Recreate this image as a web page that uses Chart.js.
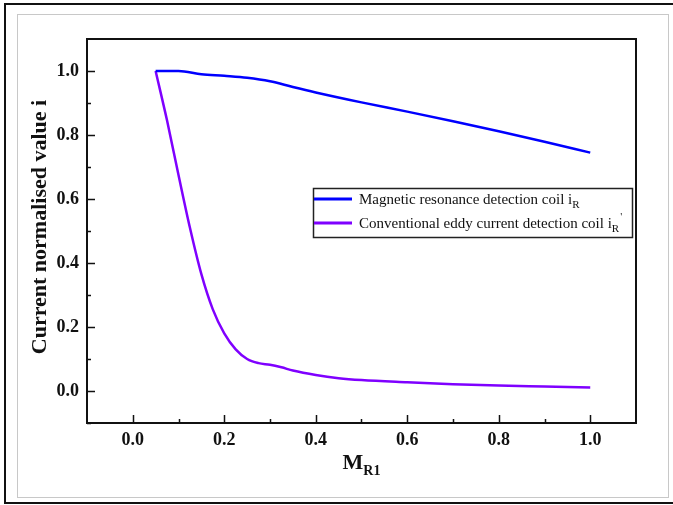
<!DOCTYPE html>
<html lang="en">
<head>
<meta charset="UTF-8">
<title>Current normalised value vs MR1</title>
<script src="https://cdn.jsdelivr.net/npm/chart.js"></script>
<style>
  body { margin: 0; background: #fff; width: 673px; height: 505px; overflow: hidden; position: relative; }
  .outer { position: absolute; left: 4px; top: 3px; width: 720px; height: 497px; border: 2px solid #111; }
  .inner { position: absolute; left: 17px; top: 14px; width: 650px; height: 482px; border: 1px solid #c8c8c8; }
  canvas { position: absolute; left: 0; top: 0; }
</style>
</head>
<body>
<div class="outer"></div>
<div class="inner"></div>
<canvas id="chart" width="673" height="505"></canvas>
<script>
// tick labels
const xMajorTicks = [0.0, 0.2, 0.4, 0.6, 0.8, 1.0];
const xMinorTicks = [0.1, 0.3, 0.5, 0.7, 0.9];
const yMajorTicks = [0.0, 0.2, 0.4, 0.6, 0.8, 1.0];
const yMinorTicks = [-0.1, 0.1, 0.3, 0.5, 0.7, 0.9];

// series: magnetic resonance detection coil
const blueX = [0.05, 0.10, 0.15, 0.20, 0.25, 0.30, 0.35, 0.40, 0.50, 0.60, 0.70, 0.80, 0.90, 1.00];
const blueY = [1.0, 1.0, 0.99, 0.985, 0.979, 0.968, 0.95, 0.933, 0.902, 0.873, 0.843, 0.812, 0.779, 0.745];

// series: conventional eddy current detection coil
const purpleX = [0.05, 0.075, 0.10, 0.125, 0.15, 0.175, 0.20, 0.225, 0.25, 0.275, 0.30, 0.325, 0.35, 0.40, 0.45, 0.50, 0.60, 0.70, 0.80, 0.90, 1.00];
const purpleY = [1.0, 0.845, 0.675, 0.51, 0.365, 0.255, 0.18, 0.13, 0.1, 0.087, 0.082, 0.074, 0.064, 0.05, 0.04, 0.034, 0.027, 0.021, 0.017, 0.014, 0.011];

const seriesNames = ['Magnetic resonance detection coil i', 'Conventional eddy current detection coil i'];
const seriesColors = ['#0000ff', '#7f00ff'];

const serif = '"Liberation Serif", "Times New Roman", serif';

function pts(xs, ys) {
  return xs.map((x, i) => ({ x: x, y: ys[i] }));
}

// frame, inward ticks, axis titles and the legend (sub/superscripts need manual text)
const decorations = {
  id: 'decorations',
  afterDraw(chart) {
    const ctx = chart.ctx;
    const a = chart.chartArea;
    const xs = chart.scales.x, ys = chart.scales.y;
    ctx.save();
    ctx.strokeStyle = '#111';
    ctx.lineWidth = 2;
    ctx.strokeRect(a.left, a.top, a.right - a.left, a.bottom - a.top);

    ctx.lineWidth = 1.5;
    ctx.beginPath();
    xMajorTicks.forEach(v => { const p = Math.round(xs.getPixelForValue(v)) + 0.5; ctx.moveTo(p, a.bottom); ctx.lineTo(p, a.bottom - 8); });
    xMinorTicks.forEach(v => { const p = Math.round(xs.getPixelForValue(v)) + 0.5; ctx.moveTo(p, a.bottom); ctx.lineTo(p, a.bottom - 4); });
    yMajorTicks.forEach(v => { const p = Math.round(ys.getPixelForValue(v)) + 0.5; ctx.moveTo(a.left, p); ctx.lineTo(a.left + 8, p); });
    yMinorTicks.forEach(v => { const p = Math.round(ys.getPixelForValue(v)) + 0.5; ctx.moveTo(a.left, p); ctx.lineTo(a.left + 4, p); });
    ctx.stroke();

    // y title
    ctx.fillStyle = '#111';
    ctx.save();
    ctx.translate(40, (a.top + a.bottom) / 2 - 4);
    ctx.rotate(-Math.PI / 2);
    ctx.font = 'bold 22px ' + serif;
    ctx.textAlign = 'center';
    ctx.textBaseline = 'middle';
    ctx.fillText('Current normalised value i', 0, 0);
    ctx.restore();

    // x title M_R1
    ctx.font = 'bold 22px ' + serif;
    const wM = ctx.measureText('M').width;
    ctx.font = 'bold 14px ' + serif;
    const wS = ctx.measureText('R1').width;
    let x0 = (a.left + a.right) / 2 - (wM + wS) / 2;
    ctx.textAlign = 'left';
    ctx.textBaseline = 'alphabetic';
    ctx.font = 'bold 22px ' + serif;
    ctx.fillText('M', x0, 469);
    ctx.font = 'bold 14px ' + serif;
    ctx.fillText('R1', x0 + wM, 475);

    // legend
    const lx = 313, ly = 188, lw = 319, lh = 49;
    ctx.lineWidth = 1.5;
    ctx.strokeStyle = '#222';
    ctx.strokeRect(lx + 0.5, ly + 0.5, lw, lh);
    const rows = [199, 223];
    rows.forEach((y, i) => {
      ctx.strokeStyle = seriesColors[i];
      ctx.lineWidth = 3;
      ctx.beginPath();
      ctx.moveTo(lx + 1, y);
      ctx.lineTo(lx + 39, y);
      ctx.stroke();
      ctx.fillStyle = '#111';
      ctx.font = '15px ' + serif;
      ctx.fillText(seriesNames[i], lx + 46, y + 5);
      const w = ctx.measureText(seriesNames[i]).width;
      ctx.font = '11px ' + serif;
      ctx.fillText('R', lx + 46 + w, y + 9);
      if (i === 1) {
        const wr = ctx.measureText('R').width;
        ctx.fillText("'", lx + 47 + w + wr, y - 3);
      }
    });
    ctx.restore();
  }
};

const tickFont = { family: serif, size: 18, weight: 'bold' };

new Chart(document.getElementById('chart'), {
  type: 'scatter',
  data: {
    datasets: [
      { label: seriesNames[0], data: pts(blueX, blueY), borderColor: seriesColors[0], backgroundColor: seriesColors[0] },
      { label: seriesNames[1], data: pts(purpleX, purpleY), borderColor: seriesColors[1], backgroundColor: seriesColors[1] }
    ]
  },
  options: {
    responsive: false,
    animation: false,
    showLine: true,
    elements: {
      point: { radius: 0 },
      line: { borderWidth: 2.5, cubicInterpolationMode: 'monotone' }
    },
    layout: { padding: { left: 0, top: 39, right: 37, bottom: 0 } },
    plugins: {
      legend: { display: false },
      tooltip: { enabled: false }
    },
    scales: {
      x: {
        type: 'linear',
        min: -0.1,
        max: 1.1,
        grid: { display: false, drawTicks: false },
        border: { display: false },
        ticks: { font: tickFont, color: '#111', padding: 7, maxRotation: 0, callback: v => v.toFixed(1) },
        afterBuildTicks: s => { s.ticks = xMajorTicks.map(v => ({ value: v })); },
        afterFit: s => { s.height = 82; }
      },
      y: {
        type: 'linear',
        min: -0.1,
        max: 1.1,
        grid: { display: false, drawTicks: false },
        border: { display: false },
        ticks: { font: tickFont, color: '#111', padding: 8, callback: v => v.toFixed(1) },
        afterBuildTicks: s => { s.ticks = yMajorTicks.map(v => ({ value: v })); },
        afterFit: s => { s.height; s.width = 87; }
      }
    }
  },
  plugins: [decorations]
});
</script>
</body>
</html>
